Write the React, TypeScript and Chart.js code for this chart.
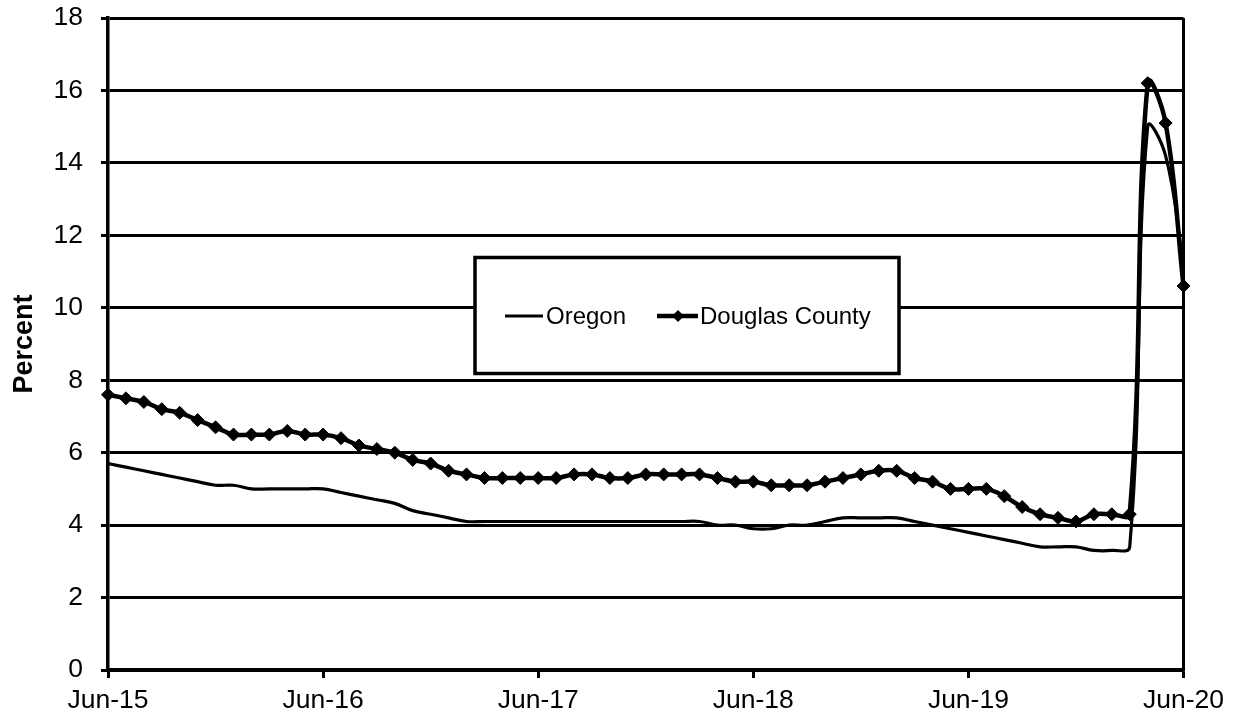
import React, { useEffect, useRef } from "react";
import { Chart, registerables } from "chart.js";

Chart.register(...registerables);

const monthLabels = [
  "Jun-15", "Jul-15", "Aug-15", "Sep-15", "Oct-15", "Nov-15", "Dec-15",
  "Jan-16", "Feb-16", "Mar-16", "Apr-16", "May-16", "Jun-16", "Jul-16", "Aug-16", "Sep-16", "Oct-16", "Nov-16", "Dec-16",
  "Jan-17", "Feb-17", "Mar-17", "Apr-17", "May-17", "Jun-17", "Jul-17", "Aug-17", "Sep-17", "Oct-17", "Nov-17", "Dec-17",
  "Jan-18", "Feb-18", "Mar-18", "Apr-18", "May-18", "Jun-18", "Jul-18", "Aug-18", "Sep-18", "Oct-18", "Nov-18", "Dec-18",
  "Jan-19", "Feb-19", "Mar-19", "Apr-19", "May-19", "Jun-19", "Jul-19", "Aug-19", "Sep-19", "Oct-19", "Nov-19", "Dec-19",
  "Jan-20", "Feb-20", "Mar-20", "Apr-20", "May-20", "Jun-20",
];

const tickLabels = ["Jun-15", "Jun-16", "Jun-17", "Jun-18", "Jun-19", "Jun-20"];

const oregon = [
  5.7, 5.6, 5.5, 5.4, 5.3, 5.2, 5.1,
  5.1, 5.0, 5.0, 5.0, 5.0, 5.0, 4.9, 4.8, 4.7, 4.6, 4.4, 4.3,
  4.2, 4.1, 4.1, 4.1, 4.1, 4.1, 4.1, 4.1, 4.1, 4.1, 4.1, 4.1,
  4.1, 4.1, 4.1, 4.0, 4.0, 3.9, 3.9, 4.0, 4.0, 4.1, 4.2, 4.2,
  4.2, 4.2, 4.1, 4.0, 3.9, 3.8, 3.7, 3.6, 3.5, 3.4, 3.4, 3.4,
  3.3, 3.3, 3.4, 15.0, 14.2, 11.2,
];

const douglas = [
  7.6, 7.5, 7.4, 7.2, 7.1, 6.9, 6.7,
  6.5, 6.5, 6.5, 6.6, 6.5, 6.5, 6.4, 6.2, 6.1, 6.0, 5.8, 5.7,
  5.5, 5.4, 5.3, 5.3, 5.3, 5.3, 5.3, 5.4, 5.4, 5.3, 5.3, 5.4,
  5.4, 5.4, 5.4, 5.3, 5.2, 5.2, 5.1, 5.1, 5.1, 5.2, 5.3, 5.4,
  5.5, 5.5, 5.3, 5.2, 5.0, 5.0, 5.0, 4.8, 4.5, 4.3, 4.2, 4.1,
  4.3, 4.3, 4.3, 16.2, 15.1, 10.6,
];

const FONT = "'Liberation Sans', Arial, sans-serif";
const TICK_SIZE = 26.5;

const legendBoxPlugin = {
  id: "legendBox",
  afterDraw(chart: any) {
    const ctx = chart.ctx as CanvasRenderingContext2D;
    const ds = chart.data.datasets;
    ctx.save();
    ctx.fillStyle = "#fff";
    ctx.fillRect(475, 257.5, 424, 116);
    ctx.strokeStyle = "#000";
    ctx.lineWidth = 3.5;
    ctx.strokeRect(475, 257.5, 424, 116);
    const cy = 316;
    ctx.font = `24px ${FONT}`;
    ctx.fillStyle = "#000";
    ctx.textBaseline = "middle";
    ctx.textAlign = "left";
    ctx.lineWidth = 3;
    ctx.beginPath();
    ctx.moveTo(505, cy);
    ctx.lineTo(543, cy);
    ctx.stroke();
    ctx.fillText(ds[0].label, 546, cy + 1);
    ctx.lineWidth = 4.5;
    ctx.beginPath();
    ctx.moveTo(657, cy);
    ctx.lineTo(698, cy);
    ctx.stroke();
    const r = 6;
    ctx.beginPath();
    ctx.moveTo(678, cy - r);
    ctx.lineTo(678 + r, cy);
    ctx.lineTo(678, cy + r);
    ctx.lineTo(678 - r, cy);
    ctx.closePath();
    ctx.fill();
    ctx.fillText(ds[1].label, 700, cy + 1);
    ctx.restore();
  },
};

export default function App() {
  const ref = useRef<HTMLCanvasElement>(null);
  useEffect(() => {
    const last = monthLabels.length - 1;
    const chart = new Chart(ref.current!, {
      type: "line",
      data: {
        labels: monthLabels,
        datasets: [
          {
            label: "Oregon",
            data: oregon,
            borderColor: "#000",
            backgroundColor: "#000",
            borderWidth: 3.2,
            pointRadius: 0,
            tension: 0.4,
            order: 1,
          },
          {
            label: "Douglas County",
            data: douglas,
            borderColor: "#000",
            backgroundColor: "#000",
            borderWidth: 4.5,
            pointStyle: "rectRot",
            pointRadius: 6.5,
            pointBorderWidth: 1,
            pointBackgroundColor: "#000",
            pointBorderColor: "#000",
            tension: 0.4,
            order: 0,
          },
        ],
      },
      options: {
        animation: false,
        responsive: false,
        maintainAspectRatio: false,
        layout: { padding: { top: 18, right: 52.5, left: 0, bottom: 0 } },
        plugins: { legend: { display: false }, tooltip: { enabled: false } },
        scales: {
          x: {
            type: "category",
            offset: false,
            afterBuildTicks: (s: any) => {
              s.ticks = s.ticks.filter((t: any) => tickLabels.includes(monthLabels[t.value]));
            },
            afterFit: (s: any) => {
              s.height = 49;
            },
            ticks: {
              autoSkip: false,
              maxRotation: 0,
              minRotation: 0,
              color: "#000",
              padding: 7,
              font: { family: FONT, size: TICK_SIZE },
            },
            grid: {
              drawOnChartArea: true,
              color: (c: any) => (c.tick && c.tick.value === last ? "#000" : "rgba(0,0,0,0)"),
              tickColor: "#000",
              lineWidth: 3,
              tickLength: 8,
              tickWidth: 3,
            },
            border: { color: "#000", width: 3.5 },
          },
          y: {
            min: 0,
            max: 18,
            afterFit: (s: any) => {
              s.width = 108;
              s.paddingTop = 0;
              s.paddingBottom = 0;
            },
            ticks: {
              stepSize: 2,
              color: "#000",
              padding: 18,
              font: { family: FONT, size: TICK_SIZE },
            },
            grid: {
              color: "#000",
              lineWidth: 3,
              tickLength: 7,
              drawTicks: true,
            },
            border: { color: "#000", width: 3.5 },
            title: {
              display: true,
              text: "Percent",
              color: "#000",
              font: { family: FONT, size: 27, weight: "bold" },
              padding: { top: 8, bottom: 0 },
            },
          },
        },
      },
      plugins: [legendBoxPlugin],
    } as any);
    return () => chart.destroy();
  }, []);
  return (
    <div
      style={{
        position: "absolute",
        left: 0,
        top: 0,
        width: 1236,
        height: 719,
        background: "#fff",
      }}
    >
      <canvas ref={ref} width={1236} height={719} style={{ width: 1236, height: 719, display: "block" }} />
    </div>
  );
}
